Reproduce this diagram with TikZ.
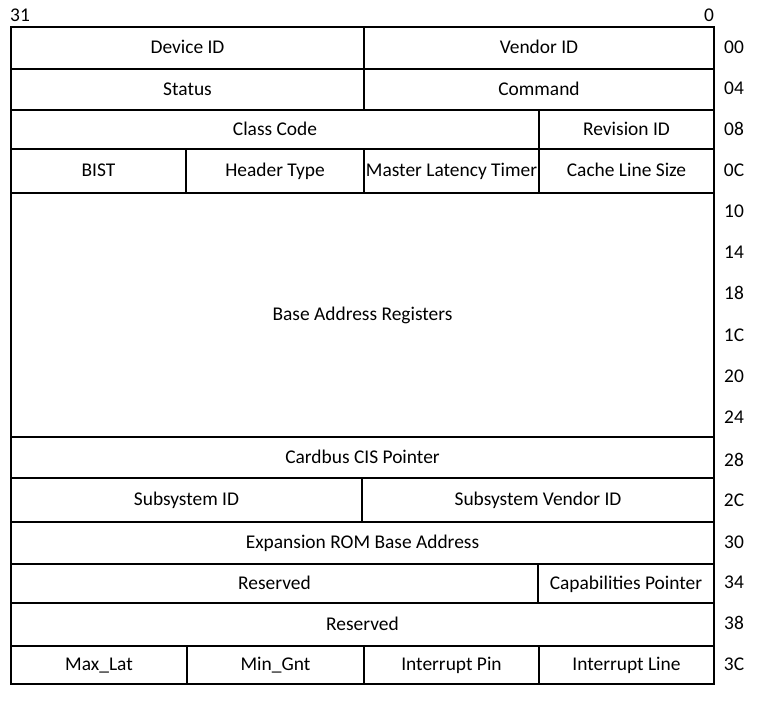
\documentclass[tikz,border=0pt]{standalone}
\usepackage{fontspec}
\setmainfont{Carlito}
\newcommand{\regfield}[6]{%
  \node[fld, minimum width={(#4-#2)*1bp}, minimum height={(#5-#3)*1bp}] (#1) at ({(#2+#4)/2},{(#3+#5)/2}) {#6};}
\begin{document}
\begin{tikzpicture}[x=1bp,y=-1bp,
  fld/.style={draw=black, line width=1.6bp, inner sep=0pt, outer sep=0pt, text height=1.2em, text depth=0pt, font=\fontsize{19.5}{23}\selectfont},
  off/.style={inner sep=0pt, text height=1.1em, text depth=0pt, font=\fontsize{19.5}{23}\selectfont}]
\useasboundingbox (0,0) rectangle (768,704);
% row 00
\regfield{devid}{11}{27}{364}{69}{Device ID}
\regfield{venid}{364}{27}{714}{69}{Vendor ID}
% row 04
\regfield{status}{11}{69}{364}{110}{Status}
\regfield{command}{364}{69}{714}{110}{Command}
% row 08
\regfield{class}{11}{110}{539}{149}{Class Code}
\regfield{rev}{539}{110}{714}{149}{Revision ID}
% row 0C
\regfield{bist}{11}{149}{186}{193}{BIST}
\regfield{htype}{186}{149}{364}{193}{Header Type}
\regfield{mlt}{364}{149}{539}{193}{Master Latency Timer}
\regfield{cls}{539}{149}{714}{193}{Cache Line Size}
% BARs
\regfield{bar}{11}{193}{714}{437}{Base Address Registers}
% row 28
\regfield{cis}{11}{437}{714}{478}{Cardbus CIS Pointer}
% row 2C
\regfield{subid}{11}{478}{362}{522}{Subsystem ID}
\regfield{subvid}{362}{478}{714}{522}{Subsystem Vendor ID}
% row 30
\regfield{rom}{11}{522}{714}{564}{Expansion ROM Base Address}
% row 34
\regfield{resa}{11}{564}{538}{603}{Reserved}
\regfield{cap}{538}{564}{714}{603}{Capabilities Pointer}
% row 38
\regfield{resb}{11}{603}{714}{646}{Reserved}
% row 3C
\regfield{maxlat}{11}{646}{187}{684}{Max\_Lat}
\regfield{mingnt}{187}{646}{364}{684}{Min\_Gnt}
\regfield{ipin}{364}{646}{539}{684}{Interrupt Pin}
\regfield{iline}{539}{646}{714}{684}{Interrupt Line}
% bit labels
\node[off] (b31) at (20,16) {31};
\node[off] (b0) at (709,16) {0};
% offsets
\foreach \y/\t [count=\i] in {48/00,89/04,130/08,171/0C,212/10,253/14,294/18,336/1C,377/20,418/24,461/28,501/2C,543/30,583/34,624/38,665/3C}
  \node[off] (o\i) at (734,\y) {\t};
\end{tikzpicture}
\end{document}
